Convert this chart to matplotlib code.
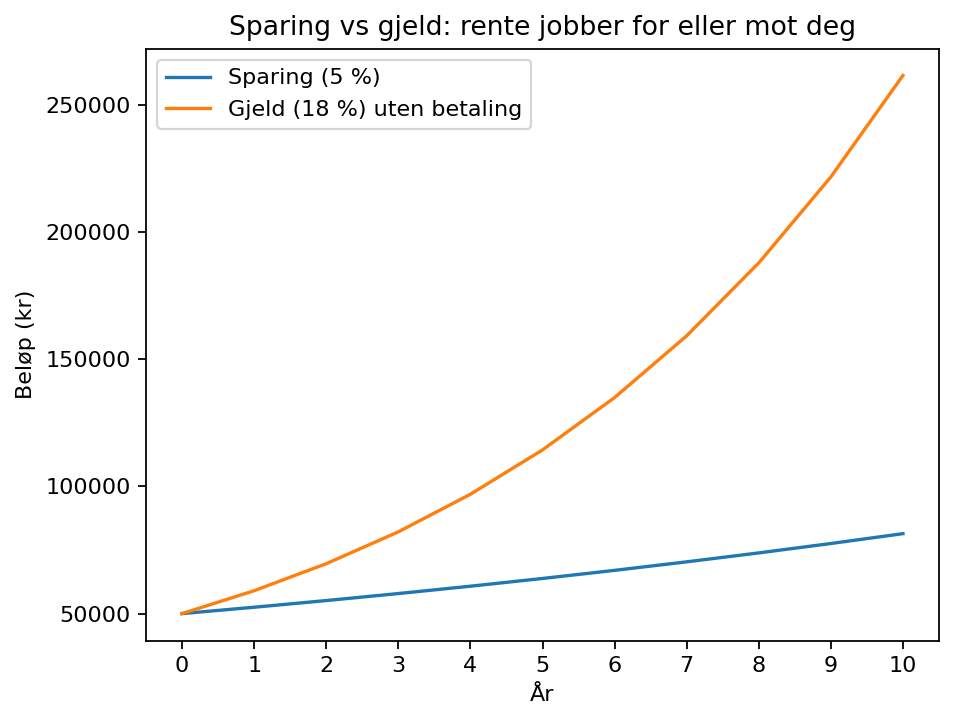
import matplotlib
matplotlib.use("Agg")
import matplotlib.pyplot as plt

years = [0, 1, 2, 3, 4, 5, 6, 7, 8, 9, 10]
sparing = [50000, 52500, 55125, 57881, 60775, 63814, 67005, 70355, 73873, 77566, 81445]
gjeld = [50000, 59000, 69620, 82152, 96939, 114388, 134978, 159274, 187943, 221773, 261692]

DPI = 160
fig, ax = plt.subplots(figsize=(955 / DPI, 721 / DPI), dpi=DPI)
ax.plot(years, sparing, label="Sparing (5 %)")
ax.plot(years, gjeld, label="Gjeld (18 %) uten betaling")
ax.set_title("Sparing vs gjeld: rente jobber for eller mot deg")
ax.set_xlabel("År")
ax.set_ylabel("Beløp (kr)")
ax.set_xticks(years)
ax.legend(loc="upper left")
fig.subplots_adjust(left=146 / 955, right=939 / 955, top=1 - 48.5 / 721, bottom=1 - 640.5 / 721)
fig.savefig("out.png", dpi=DPI)
